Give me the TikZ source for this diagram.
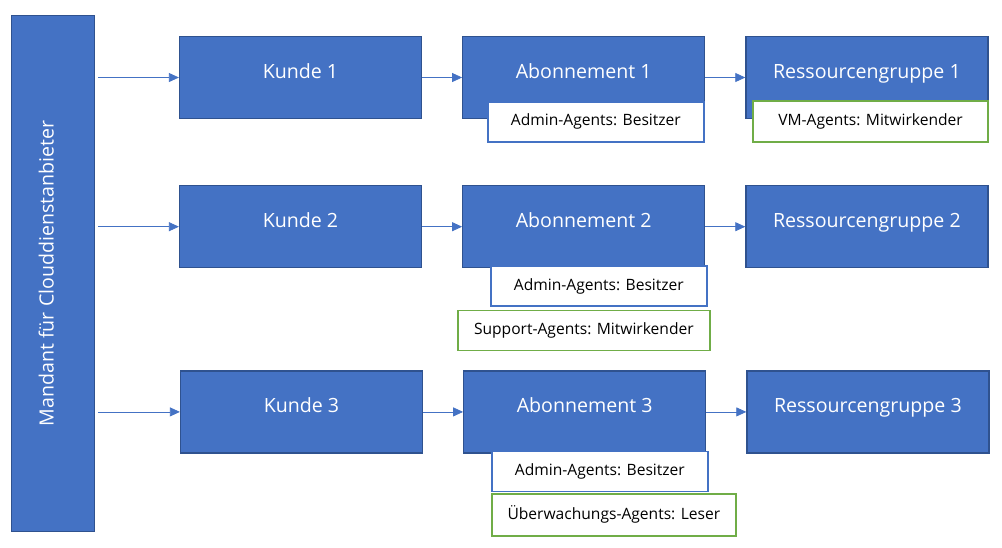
\documentclass[tikz,border=0pt]{standalone}
\usepackage{fontspec}
\setmainfont{Open Sans}
\usetikzlibrary{arrows.meta,calc,positioning}
\definecolor{bkblue}{HTML}{4472C4}
\definecolor{bkedge}{HTML}{2F528F}
\definecolor{bkgreen}{HTML}{70AD47}

\begin{document}
\begin{tikzpicture}[x=1pt,y=-1pt,node distance= 0 and 40pt]
\tikzstyle{bk}=[draw=bkedge,fill=bkblue,line width=1.2pt,text=white,font=\fontsize{19.6}{22}\selectfont,minimum width=242pt,minimum height=82pt,text height=13pt,text depth=12pt,inner sep=0pt]
\tikzstyle{bkside}=[bk,rotate=90,minimum width=516pt,minimum height=83pt]
\tikzstyle{role}=[draw=bkblue,fill=white,line width=1.5pt,font=\fontsize{15.6}{18}\selectfont,minimum width=216pt,minimum height=40pt,inner sep=0pt,anchor=north west]
\tikzstyle{rolegreen}=[role,draw=bkgreen]
\tikzstyle{link}=[draw=bkblue,line width=0.8pt,-{Triangle[length=10pt,width=9pt]}]

\useasboundingbox (0,0) rectangle (1002,547);

% tenant and the three customer rows
\draw node[bkside] (mandant) at (53,273.5) {Mandant für Clouddienstanbieter}
      node[bk] (k1) at (300.5,77.5) {Kunde 1}
      node[bk, right =of k1] (a1) {Abonnement 1}
      node[bk, right =of a1] (r1) {Ressourcengruppe 1}
      node[bk, below =66pt of k1] (k2) {Kunde 2}
      node[bk, right =of k2] (a2) {Abonnement 2}
      node[bk, right =of a2] (r2) {Ressourcengruppe 2}
      node[bk, below =102pt of k2, xshift=1pt] (k3) {Kunde 3}
      node[bk, right =of k3] (a3) {Abonnement 3}
      node[bk, right =of a3] (r3) {Ressourcengruppe 3}
;

% role assignments (bottom edge of the boxes)
\draw node[role] (adm1) at ($(a1.south west)+(25,-18)$) {Admin-Agents: Besitzer}
      node[rolegreen,minimum width=235pt,minimum height=41pt] (vm1) at ($(r1.south west)+(7,-19)$) {VM-Agents: Mitwirkender}
      node[role] (adm2) at ($(a2.south west)+(28,-3)$) {Admin-Agents: Besitzer}
      node[rolegreen,minimum width=252pt] (sup2) at ($(adm2.south west)+(-33,3)$) {Support-Agents: Mitwirkender}
      node[role] (adm3) at ($(a3.south west)+(28,-3)$) {Admin-Agents: Besitzer}
      node[rolegreen,minimum width=244pt,minimum height=42pt] (mon3) at ($(adm3.south west)+(0,1)$) {Überwachungs-Agents: Leser}
;

% arrows (mandant is rotated, so its right side is .south)
\foreach \row in {1,2,3}{
  \draw[link,shorten <=3pt] (mandant.south |- k\row.west) -- (k\row.west);
  \draw[link] (k\row.east) -- (a\row.west);
  \draw[link] (a\row.east) -- (r\row.west);
}
\end{tikzpicture}
\end{document}
